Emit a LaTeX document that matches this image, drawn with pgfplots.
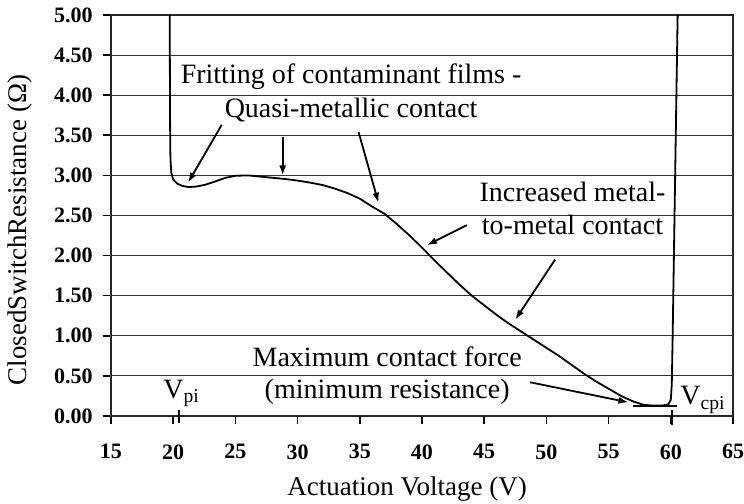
\documentclass[border=0pt]{standalone}
\usepackage{fontspec}
\setmainfont{Liberation Serif}
\usepackage{pgfplots}
\pgfplotsset{compat=1.18}
\usetikzlibrary{arrows.meta}

\begin{document}
\begin{tikzpicture}
\begin{axis}[
  scale only axis, width=311pt, height=200.5pt,
  xmin=15, xmax=65, ymin=0, ymax=5,
  xtick={15,20,25,30,35,40,45,50,55,60,65},
  ytick={0,0.5,1,1.5,2,2.5,3,3.5,4,4.5,5},
  xtick pos=bottom, ytick pos=left,
  tick align=outside, major tick length=4pt,
  ymajorgrids, grid style={black!80, line width=0.5pt},
  axis line style={black!85, line width=1.1pt},
  tick style={black, line width=0.8pt},
  ticklabel style={font=\fontsize{11}{13}\selectfont\bfseries},
  /pgf/number format/assume math mode=true,
  yticklabel style={/pgf/number format/fixed, /pgf/number format/fixed zerofill, /pgf/number format/precision=2, anchor=east, inner sep=0pt, xshift=-5pt},
  xticklabel style={anchor=north, inner sep=0pt, yshift=-10pt},
  xlabel={Actuation Voltage (V)},
  ylabel={ClosedSwitchResistance (Ω)},
  every axis x label/.style={at={(axis description cs:0.476,-0.182)}, anchor=center, font=\fontsize{13.5}{16}\selectfont},
  every axis y label/.style={at={(axis description cs:-0.1463,0.464)}, rotate=90, anchor=center, font=\fontsize{13.5}{16}\selectfont},
  clip=false,
]
\addplot[black, line width=0.9pt, line join=round] coordinates {
(19.72,5.0) (19.74,4.0) (19.76,3.4) (19.78,3.2) (19.85,3.03) (20.0,2.95) (20.3,2.9) (20.7,2.87)
(21.2,2.855) (21.8,2.86) (22.5,2.88) (23.3,2.92) (24.2,2.97) (25.0,2.995) (26,3.0)
(27,2.985) (28,2.97) (29,2.955) (30,2.935) (31,2.91) (32,2.88) (33,2.835) (34,2.78)
(35,2.71) (36,2.61) (37,2.52) (38,2.39) (39,2.25) (40,2.1) (41,1.94) (42,1.79)
(43,1.64) (44,1.5) (45,1.38) (46,1.26) (47,1.15) (48,1.05) (49,0.95) (50,0.85)
(51,0.75) (52,0.64) (53,0.53) (54,0.43) (55,0.34) (56,0.25) (57,0.18) (57.8,0.14)
(58.5,0.13) (59.3,0.13) (59.8,0.145) (60.0,0.2) (60.08,0.4) (60.15,1.0) (60.25,2.0)
(60.35,3.0) (60.45,4.0) (60.55,5.0)
};
% baseline marker near minimum
\addplot[black, line width=0.8pt] coordinates {(57.0,0.125) (60.5,0.125)};
% Vpi and Vcpi markers on the x axis
\addplot[black, line width=1.2pt] coordinates {(20.45,0.07) (20.45,-0.09)};
\addplot[black, line width=1.2pt] coordinates {(60.1,0.07) (60.1,-0.11)};

\tikzset{ann/.style={font=\fontsize{14}{16}\selectfont, inner sep=0pt, anchor=base},
         arr/.style={black, line width=0.9pt, -{Latex[length=5pt,width=3.5pt]}}}
\node[ann] at (axis cs:34.3,4.15) {Fritting of contaminant films -};
\node[ann] at (axis cs:34.3,3.72) {Quasi-metallic contact};
\node[ann] at (axis cs:52.1,2.67) {Increased metal-};
\node[ann] at (axis cs:52.1,2.26) {to-metal contact};
\node[ann] at (axis cs:37.2,0.62) {Maximum contact force};
\node[ann] at (axis cs:37.2,0.22) {(minimum resistance)};
\node[ann, anchor=base west] at (axis cs:19.18,0.22) {V\textsubscript{pi}};
\node[ann, anchor=base west] at (axis cs:60.74,0.14) {V\textsubscript{cpi}};

\draw[arr] (axis cs:23.9,3.63) -- (axis cs:21.2,2.91);
\draw[arr] (axis cs:28.8,3.48) -- (axis cs:28.8,3.0);
\draw[arr] (axis cs:34.9,3.54) -- (axis cs:36.5,2.66);
\draw[arr] (axis cs:43.6,2.38) -- (axis cs:40.4,2.13);
\draw[arr] (axis cs:50.7,1.95) -- (axis cs:47.5,1.20);
\draw[arr] (axis cs:48.7,0.42) -- (axis cs:56.6,0.17);
\end{axis}
\pgfresetboundingbox
\path ([xshift=-55.5pt,yshift=-44pt]current axis.south west) rectangle ([xshift=5.5pt,yshift=7.5pt]current axis.north east);
\end{tikzpicture}
\end{document}
